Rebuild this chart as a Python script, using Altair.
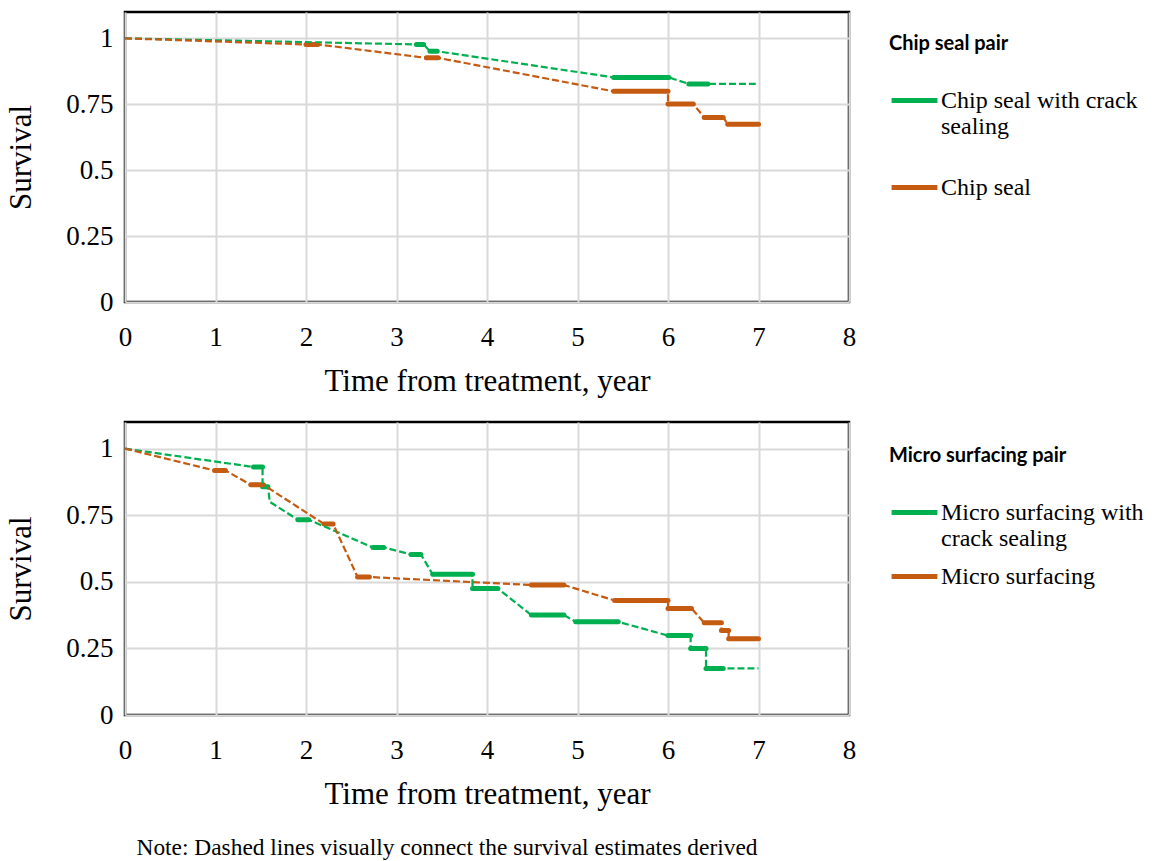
import altair as alt
import pandas as pd

GREEN = "#00B050"
ORANGE = "#C55A11"

# ---- Chip seal pair: survival estimates (time in years) ----
cs_crack_label = "Chip seal with crack sealing"
cs_crack_start = [3.22, 3.37, 5.40, 6.23]
cs_crack_end = [3.30, 3.45, 6.01, 6.44]
cs_crack_surv = [0.977, 0.951, 0.852, 0.827]
cs_crack_extra = [(6.97, 0.827)]

cs_label = "Chip seal"
cs_start = [2.00, 3.33, 5.40, 6.00, 6.40, 6.66]
cs_end = [2.13, 3.46, 6.00, 6.28, 6.61, 7.00]
cs_surv = [0.977, 0.926, 0.799, 0.751, 0.700, 0.674]
cs_extra = []

# ---- Micro surfacing pair ----
ms_crack_label = "Micro surfacing with crack sealing"
ms_crack_start = [1.42, 1.52, 1.91, 2.74, 3.16, 3.40, 3.84, 4.49, 4.98, 6.00, 6.25, 6.42]
ms_crack_end = [1.52, 1.58, 2.03, 2.86, 3.27, 3.84, 4.12, 4.85, 5.45, 6.25, 6.42, 6.61]
ms_crack_surv = [0.931, 0.857, 0.733, 0.629, 0.603, 0.528, 0.475, 0.375, 0.350, 0.298, 0.250, 0.175]
ms_crack_extra = [(1.60, 0.800), (7.00, 0.175)]

ms_label = "Micro surfacing"
ms_start = [0.99, 1.39, 2.20, 2.57, 4.49, 5.41, 6.00, 6.40, 6.59, 6.67]
ms_end = [1.11, 1.53, 2.30, 2.70, 4.85, 6.00, 6.26, 6.59, 6.67, 7.00]
ms_surv = [0.918, 0.864, 0.717, 0.518, 0.488, 0.430, 0.400, 0.346, 0.317, 0.286]
ms_extra = []

X_TICKS = [0, 1, 2, 3, 4, 5, 6, 7, 8]
Y_TICKS = [0, 0.25, 0.5, 0.75, 1]

SERIF = "Liberation Serif"


def frames(label, starts, ends, survs, extras):
    seg = pd.DataFrame({"series": label, "start": starts, "end": ends, "surv": survs})
    pts = [(0.0, 1.0)]
    for a, b, s in zip(starts, ends, survs):
        pts += [(a, s), (b, s)]
    pts += list(extras)
    pts = sorted(pts, key=lambda p: p[0])
    path = pd.DataFrame({"series": label, "t": [p[0] for p in pts],
                         "surv": [p[1] for p in pts], "idx": range(len(pts))})
    return seg, path


def panel(title, series, height, wrap_expr, legend_y, row_pad, title_pad):
    segs, paths = zip(*[frames(*s) for s in series])
    seg_df = pd.concat(segs, ignore_index=True)
    path_df = pd.concat(paths, ignore_index=True)
    labels = [s[0] for s in series]

    xs = alt.Scale(domain=[0, 8], nice=False)
    ys = alt.Scale(domain=[0, 1.1], nice=False)
    x_axis = alt.Axis(values=X_TICKS, format="d", title="Time from treatment, year")
    y_axis = alt.Axis(values=Y_TICKS, format="~g", title="Survival")

    color = alt.Color(
        "series:N",
        scale=alt.Scale(domain=labels, range=[GREEN, ORANGE]),
        legend=alt.Legend(
            title=title, orient="none", legendX=764, legendY=legend_y,
            titleFont="Lato", titleFontSize=20, titleFontWeight="bold", titleColor="black",
            titlePadding=title_pad,
            labelFont=SERIF, labelFontSize=24, labelColor="black", labelLimit=500,
            labelExpr=wrap_expr, labelOffset=1,
            symbolType="stroke", symbolStrokeWidth=5, symbolSize=2100,
            rowPadding=row_pad,
        ),
    )

    solid = alt.Chart(seg_df).mark_rule(strokeWidth=5, strokeCap="round").encode(
        x=alt.X("start:Q", scale=xs, axis=x_axis),
        x2="end:Q",
        y=alt.Y("surv:Q", scale=ys, axis=y_axis),
        color=color,
    )
    dashed = alt.Chart(path_df).mark_line(strokeWidth=2.2, strokeDash=[7, 3]).encode(
        x=alt.X("t:Q", scale=xs),
        y=alt.Y("surv:Q", scale=ys),
        color=alt.Color("series:N", legend=None),
        order="idx:Q",
    )
    return alt.layer(solid, dashed).properties(width=724, height=height)


top = panel(
    "Chip seal pair",
    [(cs_crack_label, cs_crack_start, cs_crack_end, cs_crack_surv, cs_crack_extra),
     (cs_label, cs_start, cs_end, cs_surv, cs_extra)],
    290,
    "datum.label == 'Chip seal with crack sealing' ? ['Chip seal with crack', 'sealing'] : datum.label",
    22, 23, 21,
)
bottom = panel(
    "Micro surfacing pair",
    [(ms_crack_label, ms_crack_start, ms_crack_end, ms_crack_surv, ms_crack_extra),
     (ms_label, ms_start, ms_end, ms_surv, ms_extra)],
    293,
    "datum.label == 'Micro surfacing with crack sealing' ? ['Micro surfacing with', 'crack sealing'] : datum.label",
    24, -10, 21,
)

chart = alt.vconcat(top, bottom, spacing=22).resolve_scale(color="independent").properties(
    title=alt.TitleParams(
        "Note: Dashed lines visually connect the survival estimates derived",
        orient="bottom", anchor="start", font=SERIF, fontSize=23.4, fontWeight="normal",
        color="black", offset=27, dx=132,
    ),
    padding={"left": 4, "top": 10, "right": 5, "bottom": 5},
).configure_view(
    stroke="black", strokeWidth=2.5
).configure_axis(
    labelFont=SERIF, labelFontSize=27, labelColor="black",
    titleFont=SERIF, titleFontSize=31, titleFontWeight="normal", titleColor="black",
    grid=True, gridColor="#D9D9D9", gridWidth=2,
    domain=False, ticks=False, labelFlush=False,
).configure_axisX(
    labelPadding=22, titlePadding=16,
).configure_axisY(
    labelPadding=12, titlePadding=28,
)

chart.save("out.html", embed_options={"renderer": "svg", "actions": False})
